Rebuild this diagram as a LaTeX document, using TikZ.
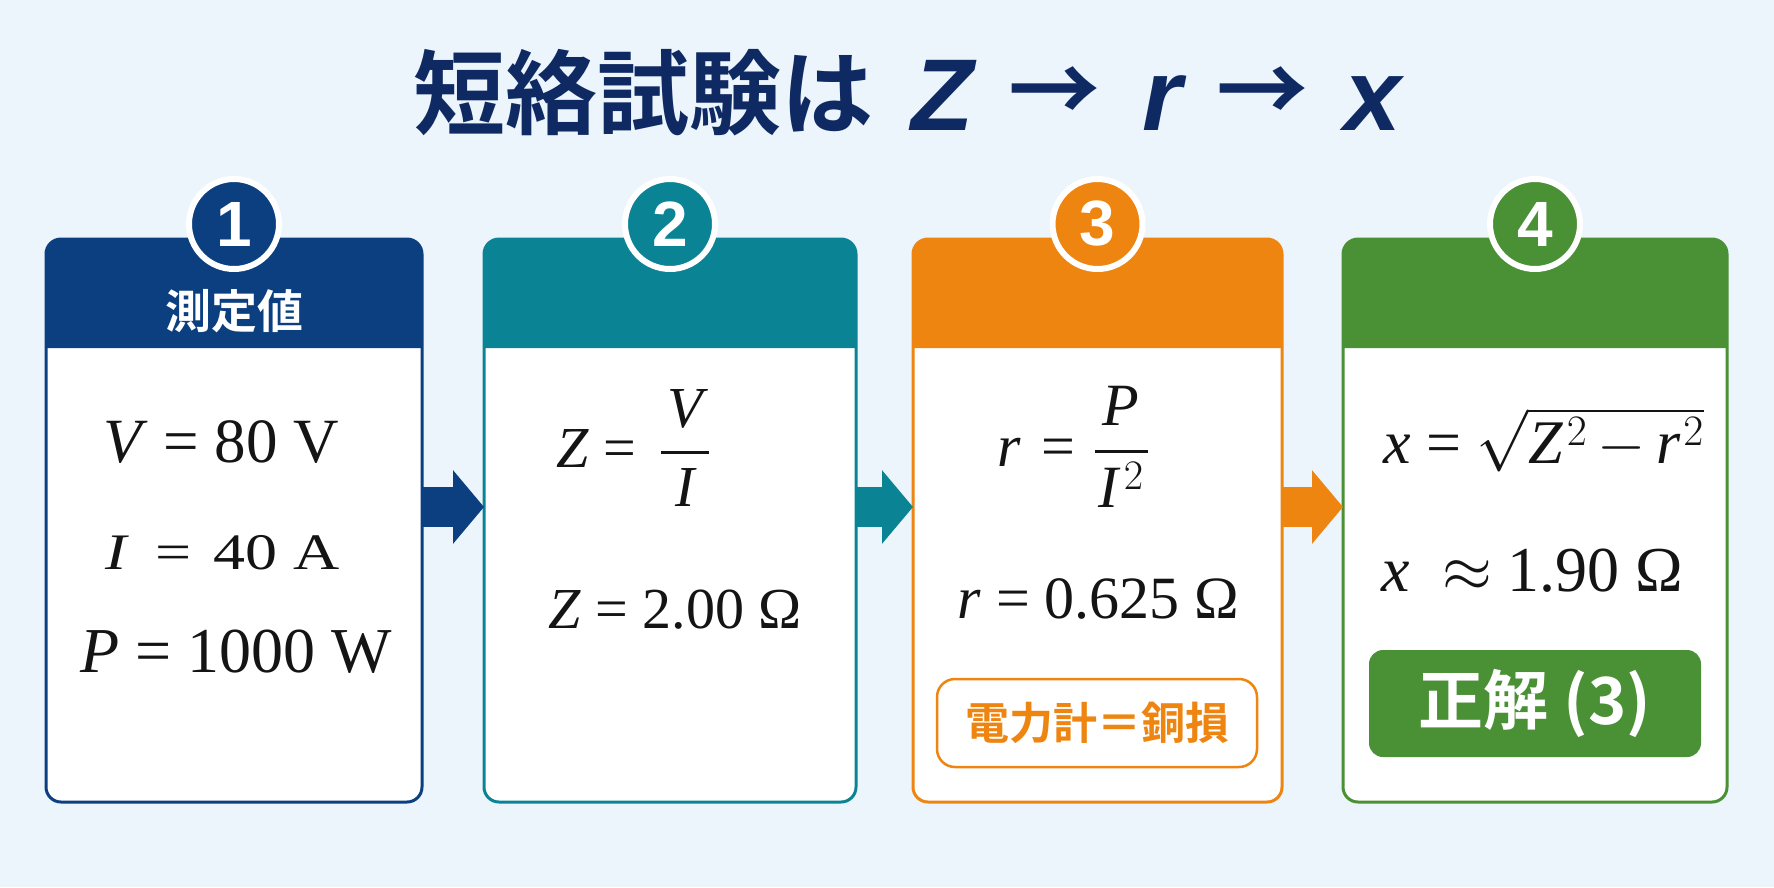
\RequirePackage{fix-cm}
\documentclass[tikz,border=0pt]{standalone}
\usepackage{amsmath}
\usepackage{graphicx}
\usepackage{fontspec}
\setmainfont{Liberation Serif}
\newfontfamily\cjk{Noto Sans CJK JP}[BoldFont={Noto Sans CJK JP Bold}]
\newfontfamily\lsans{Liberation Sans}
\usetikzlibrary{arrows.meta}
\definecolor{bgc}{HTML}{ECF4FC}
\definecolor{titlec}{HTML}{0F2A63}
\definecolor{navyc}{HTML}{0B3F80}
\definecolor{tealc}{HTML}{0A8494}
\definecolor{orngc}{HTML}{EF8511}
\definecolor{grnc}{HTML}{4A9035}
\definecolor{inkc}{HTML}{141414}
\newcommand{\myfrac}[3]{\genfrac{}{}{3pt}{0}{\hspace{#3}#1\hspace{#3}}{\hspace{#3}#2\hspace{#3}}}
\begin{document}
\begin{tikzpicture}[x=1pt,y=-1pt,
  cardbox/.style={rectangle, rounded corners=15pt, line width=3pt, fill=white,
    minimum height=563pt, inner sep=0pt, outer sep=0pt},
  numbadge/.style={circle, draw=white, line width=6pt, minimum size=90pt, inner sep=0pt,
    text=white, font=\lsans\bfseries\fontsize{64}{70}\selectfont},
  hdrtext/.style={text=white, inner sep=0pt, font=\cjk\bfseries\fontsize{46}{52}\selectfont},
  titlecjk/.style={text=titlec, inner sep=0pt, font=\cjk\bfseries\fontsize{92}{100}\selectfont},
  titlelat/.style={text=titlec, inner sep=0pt, anchor=base, font=\lsans\bfseries\itshape\fontsize{102}{110}\selectfont},
  fml/.style={text=inkc, inner sep=0pt, anchor=base},
  flow/.style={line width=40pt, -{Triangle[length=31pt,width=72pt]}}
]
\fill[bgc] (0,0) rectangle (1774,887);
\useasboundingbox (0,0) rectangle (1774,887);

% title
\node[titlecjk] (t1) at (643.5,93) {短絡試験は};
\node[titlelat] (t2) at (943,130) {Z};
\node[titlecjk] (t3) at (1054.5,95) {→};
\node[titlelat] (t4) at (1162,130) {r};
\node[titlecjk] (t5) at (1262.5,95) {→};
\node[titlelat] (t6) at (1372.5,130) {x};

% cards
\node[cardbox, draw=navyc, minimum width=376pt] (c1) at (234,520.5) {};
\node[cardbox, draw=tealc, minimum width=372pt] (c2) at (670,520.5) {};
\node[cardbox, draw=orngc, minimum width=369pt] (c3) at (1097.5,520.5) {};
\node[cardbox, draw=grnc, minimum width=384pt] (c4) at (1535,520.5) {};
\coordinate (hb) at (0,348);
\foreach \c/\col in {c1/navyc,c2/tealc,c3/orngc,c4/grnc}{
  \fill[\col] (\c.west |- hb) [rounded corners=15pt] -- (\c.north west) -- (\c.north east) [sharp corners] -- (\c.east |- hb) -- cycle;
}

% number badges
\node[numbadge, fill=navyc] (n1) at (234,224) {1};
\node[numbadge, fill=tealc] (n2) at (670,224) {2};
\node[numbadge, fill=orngc] (n3) at (1097.5,224) {3};
\node[numbadge, fill=grnc] (n4) at (1535,224) {4};

% header text
\node[hdrtext] (h1) at (234,311) {測定値};

% flow arrows
\coordinate (ay) at (0,507);
\draw[flow, navyc] (c1.east |- ay) -- (c2.west |- ay);
\draw[flow, tealc] (c2.east |- ay) -- (c3.west |- ay);
\draw[flow, orngc] (c3.east |- ay) -- (c4.west |- ay);

% card 1
\node[fml, font=\fontsize{63}{70}\selectfont] (v1) at (221,462) {\textit{V} = 80 V};
\node[fml, font=\fontsize{64}{70}\selectfont] (v2) at (223,569) {\scalebox{1}[0.8]{\textit{I}\hspace{0.4em}=\hspace{0.35em}40 A}};
\node[fml, font=\fontsize{64}{70}\selectfont] (v3) at (236.5,672) {\textit{P} = 1000 W};

% card 2
\node[fml, font=\fontsize{58}{70}\selectfont] (z1) at (633,467) {\textit{Z} = \,$\myfrac{\textit{V}}{\textit{I}}{6pt}$};
\node[fml, font=\fontsize{58}{70}\selectfont] (z2) at (675,628) {\textit{Z} = 2.00 Ω};

% card 3
\node[fml, font=\fontsize{60}{70}\selectfont] (r1) at (1073,466) {\textit{r}\hspace{0.35em}=\hspace{0.3em}$\myfrac{\textit{P}}{\textit{I}\kern5pt^{2}}{4pt}$};
\node[fml, font=\fontsize{60}{70}\selectfont] (r2) at (1098.5,618) {\textit{r} = 0.625 Ω};
\node[draw=orngc, line width=2.5pt, rounded corners=18pt, fill=white, minimum width=320pt,
  minimum height=88pt, text=orngc, font=\cjk\bfseries\fontsize{44}{50}\selectfont] (b3) at (1097,723) {電力計＝銅損};

% card 4
\node[fml, font=\fontsize{62}{72}\selectfont] (x1) at (1543.5,463) {\textit{x} = $\sqrt{\textit{Z}\kern4pt^{2}\,{-}\,\textit{r}\kern3pt^{2}}$};
\node[fml, font=\fontsize{64}{72}\selectfont] (x2) at (1532.5,591) {\textit{x}\enspace$\approx$ 1.90 Ω};
\node[fill=grnc, rounded corners=14pt, minimum width=332pt, minimum height=107pt, text=white,
  font=\cjk\bfseries\fontsize{65}{72}\selectfont] (ans) at (1535,703.5) {正解 (3)};
\end{tikzpicture}
\end{document}
